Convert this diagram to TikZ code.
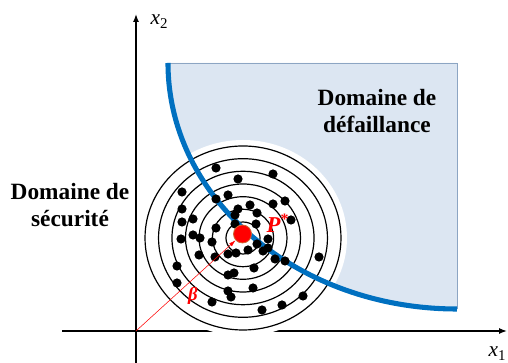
\documentclass[tikz,border=0pt]{standalone}
\usepackage{fontspec}
\setmainfont{Liberation Serif}
\usetikzlibrary{arrows.meta}
\definecolor{failfill}{RGB}{220,230,242}
\definecolor{failedge}{RGB}{140,165,195}
\definecolor{limitblue}{RGB}{0,112,192}
\definecolor{designred}{RGB}{255,0,0}
\newcommand{\Pstar}{\textbf{\textit{P}}\textsuperscript{\textbf{*}}}

\begin{document}
\begin{tikzpicture}[x=0.75pt,y=0.75pt,>=Latex,
  domlabel/.style={font=\fontsize{17.5}{20}\selectfont\bfseries, align=center},
  axis/.style={line width=1pt,-{Latex[length=6pt,width=4.5pt]}},
  ring/.style={line width=0.9pt}]
  \useasboundingbox (0,0) rectangle (508,363);

  % failure domain
  \fill[failfill] (168,300) arc[start angle=180,end angle=270,x radius=289,y radius=246] -- (457,300) -- cycle;
  \draw[failedge, line width=0.6pt] (168,300) -- (457,300) -- (457,54);

  % axes
  \coordinate (O) at (136,32);
  \coordinate (xstart) at (62,32);
  \coordinate (xend) at (507,32);
  \coordinate (ystart) at (136,0);
  \coordinate (yend) at (136,349);
  \draw[axis] (xstart) -- (xend);
  \draw[axis] (ystart) -- (yend);
  \node[anchor=base west,font=\fontsize{16}{18}\selectfont] (xtwo) at (146,338) {\textit{x}\textsubscript{2}};
  \node[anchor=base west,font=\fontsize{16}{18}\selectfont] (xone) at (484,6) {\textit{x}\textsubscript{1}};

  % sampling rings
  \fill[white] (243,125) ellipse[x radius=104,y radius=98];
  \foreach \r in {16,28.7,41.3,54,66.7,79.3,92}
    \draw[ring] (243,125) ellipse[x radius=1.065*\r,y radius=\r];

  % limit state
  \draw[limitblue, line width=3.8pt] (168,300) arc[start angle=180,end angle=270,x radius=289,y radius=246];

  % samples
  \foreach \x/\y in {216/195,238/184,273/189,182/171,228/168,216/164,285/162,
    250/158,273/159,182/154,238/154,257/150,235/148,193/144,291/143,182/141,
    235/139,256/139,216/135,193/128,200/125,181/124,212/121,268/124,257/119,
    248/113,268/115,263/112,199/108,236/110,228/109,215/106,275/104,285/102,
    319/106,177/97,254/95,234/90,228/88,177/80,253/75,228/72,231/66,212/61,
    303/67,282/58,262/53}
    \fill (\x,\y) circle (4.6);

  % design point
  \node[circle, fill=designred, draw=brown!80!red, line width=0.6pt, minimum size=13.5pt, inner sep=0pt] (P) at (242.5,129) {};
  \draw[designred, line width=0.4pt, -{Latex[length=5pt,width=3pt]}] (O) -- (P);
  \node[text=designred, anchor=base west, font=\fontsize{17}{19}\selectfont] (Plabel) at (262,130) {\Pstar};
  \node[text=designred, font=\fontsize{14}{16}\selectfont] (beta) at (193,67) {\textbf{\textit{β}}};

  % domain labels
  \node[domlabel] (safe) at (70,158) {Domaine de\\sécurité};
  \node[domlabel] (fail) at (377,252) {Domaine de\\défaillance};
\end{tikzpicture}
\end{document}
